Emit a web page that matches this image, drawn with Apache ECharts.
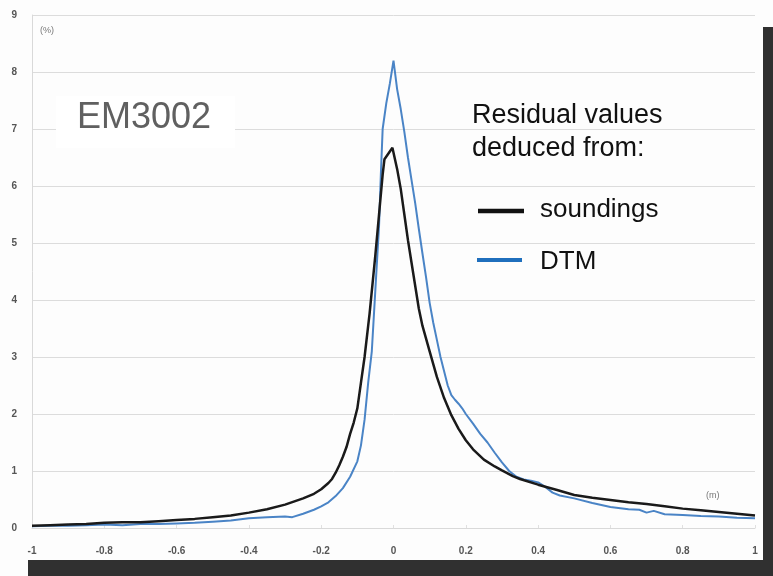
<!DOCTYPE html>
<html>
<head>
<meta charset="utf-8">
<script src="https://cdn.jsdelivr.net/npm/echarts@6/dist/echarts.min.js"></script>
<style>
html,body{margin:0;padding:0;background:#fff;}
#c{width:773px;height:576px;}
</style>
</head>
<body>
<div id="c"></div>
<script>
// x positions (m) and residual frequency (%) for soundings
var soundingsX = [-1.00,-0.95,-0.90,-0.85,-0.80,-0.75,-0.70,-0.65,-0.60,-0.55,-0.50,-0.45,-0.40,-0.35,-0.30,-0.25,-0.22,-0.20,-0.18,-0.17,-0.16,-0.15,-0.14,-0.13,-0.12,-0.11,-0.10,-0.09,-0.08,-0.07,-0.066,-0.05,-0.04,-0.03,-0.025,-0.003,0.01,0.02,0.03,0.04,0.05,0.06,0.07,0.08,0.10,0.12,0.14,0.16,0.18,0.20,0.22,0.25,0.28,0.30,0.33,0.35,0.40,0.45,0.50,0.55,0.60,0.65,0.70,0.75,0.80,0.85,0.90,0.95,1.00];
var soundingsY = [0.04,0.05,0.06,0.07,0.09,0.10,0.10,0.12,0.14,0.16,0.19,0.22,0.27,0.33,0.41,0.52,0.60,0.68,0.79,0.86,0.97,1.10,1.25,1.42,1.65,1.85,2.10,2.55,3.00,3.55,3.77,4.80,5.50,6.20,6.47,6.67,6.30,5.95,5.50,5.05,4.65,4.25,3.85,3.55,3.10,2.65,2.28,1.98,1.74,1.54,1.38,1.20,1.08,1.01,0.91,0.86,0.76,0.67,0.58,0.53,0.49,0.45,0.42,0.38,0.34,0.31,0.28,0.25,0.22];
// x positions (m) and residual frequency (%) for DTM
var dtmX = [-1.00,-0.95,-0.90,-0.85,-0.80,-0.75,-0.70,-0.65,-0.60,-0.55,-0.50,-0.45,-0.40,-0.35,-0.30,-0.28,-0.25,-0.22,-0.20,-0.18,-0.16,-0.14,-0.12,-0.10,-0.09,-0.08,-0.07,-0.06,-0.05,-0.04,-0.035,-0.03,-0.02,-0.01,0.00,0.01,0.02,0.03,0.04,0.05,0.06,0.07,0.08,0.09,0.10,0.11,0.12,0.13,0.14,0.15,0.16,0.17,0.18,0.19,0.20,0.22,0.24,0.26,0.28,0.30,0.32,0.34,0.36,0.38,0.40,0.42,0.44,0.46,0.50,0.55,0.60,0.65,0.68,0.70,0.72,0.75,0.80,0.85,0.90,0.95,1.00];
var dtmY = [0.03,0.04,0.04,0.05,0.06,0.05,0.07,0.07,0.08,0.09,0.11,0.13,0.17,0.19,0.20,0.19,0.25,0.32,0.38,0.45,0.56,0.70,0.90,1.17,1.45,1.90,2.55,3.10,4.20,5.30,6.20,7.00,7.45,7.80,8.20,7.70,7.35,6.95,6.50,6.10,5.70,5.25,4.82,4.40,3.95,3.60,3.30,3.00,2.75,2.50,2.33,2.25,2.18,2.10,2.00,1.83,1.65,1.50,1.32,1.15,1.00,0.90,0.85,0.83,0.80,0.72,0.62,0.57,0.52,0.44,0.37,0.33,0.32,0.27,0.30,0.24,0.23,0.21,0.20,0.18,0.17];
var yTicks = [0,1,2,3,4,5,6,7,8,9];

function pairs(xs, ys){ return xs.map(function(x,i){ return [x, ys[i]]; }); }

var chart = echarts.init(document.getElementById('c'), null, {renderer:'canvas'});
var font = 'Liberation Sans, Arial, sans-serif';
chart.setOption({
  backgroundColor: '#fdfdfd',
  animation: false,
  grid: {left: 32, right: 18, top: 15, bottom: 48, containLabel: false},
  xAxis: {
    type: 'value', min: -1, max: 1, interval: 0.2,
    axisLine: {show: true, onZero: false, lineStyle: {color: '#d9d9d9', width: 1}},
    axisTick: {show: true, inside: true, length: 3, lineStyle: {color: '#e0e0e0'}},
    splitLine: {show: false},
    axisLabel: {color: '#555', fontSize: 10, fontWeight: 'bold', fontFamily: font, margin: 18,
      formatter: function(v){ return String(Math.round(v*10)/10); }}
  },
  yAxis: {
    type: 'value', min: yTicks[0], max: yTicks[yTicks.length-1], interval: 1,
    axisLine: {show: true, onZero: false, lineStyle: {color: '#d9d9d9', width: 1}},
    axisTick: {show: false},
    splitLine: {show: true, lineStyle: {color: '#dcdcdc', width: 1}},
    axisLabel: {color: '#555', fontSize: 10, fontWeight: 'bold', fontFamily: font, margin: 15}
  },
  series: [
    {name: 'DTM', type: 'line', data: pairs(dtmX, dtmY), showSymbol: false, symbol: 'none',
     lineStyle: {color: '#4a84c6', width: 2}, z: 2},
    {name: 'soundings', type: 'line', data: pairs(soundingsX, soundingsY), showSymbol: false, symbol: 'none',
     lineStyle: {color: '#1a1a1a', width: 2.5}, z: 3}
  ],
  graphic: [
    {type: 'rect', shape: {x: 28, y: 560, width: 745, height: 16}, style: {fill: '#303030'}, z: 1},
    {type: 'rect', shape: {x: 763, y: 27, width: 10, height: 549}, style: {fill: '#303030'}, z: 1},
    {type: 'rect', shape: {x: 56, y: 96, width: 179, height: 52}, style: {fill: '#ffffff'}, z: 10},
    {type: 'text', x: 77, y: 100, z: 11, style: {text: 'EM3002', fill: '#606060', fontSize: 36, fontFamily: font}},
    {type: 'text', x: 472, y: 102, z: 11, style: {text: 'Residual values', fill: '#111', fontSize: 27, fontFamily: font}},
    {type: 'text', x: 472, y: 135, z: 11, style: {text: 'deduced from:', fill: '#111', fontSize: 27, fontFamily: font}},
    {type: 'line', shape: {x1: 478, y1: 211, x2: 524, y2: 211}, style: {stroke: '#111', lineWidth: 4.5}, z: 11},
    {type: 'text', x: 540, y: 197, z: 11, style: {text: 'soundings', fill: '#111', fontSize: 26, fontFamily: font}},
    {type: 'line', shape: {x1: 477, y1: 260, x2: 522, y2: 260}, style: {stroke: '#1f6fbd', lineWidth: 4}, z: 11},
    {type: 'text', x: 540, y: 249, z: 11, style: {text: 'DTM', fill: '#111', fontSize: 26, fontFamily: font}},
    {type: 'text', x: 40, y: 26, z: 11, style: {text: '(%)', fill: '#777', fontSize: 9, fontFamily: font}},
    {type: 'text', x: 706, y: 491, z: 11, style: {text: '(m)', fill: '#777', fontSize: 9, fontFamily: font}}
  ]
});
</script>
</body>
</html>
